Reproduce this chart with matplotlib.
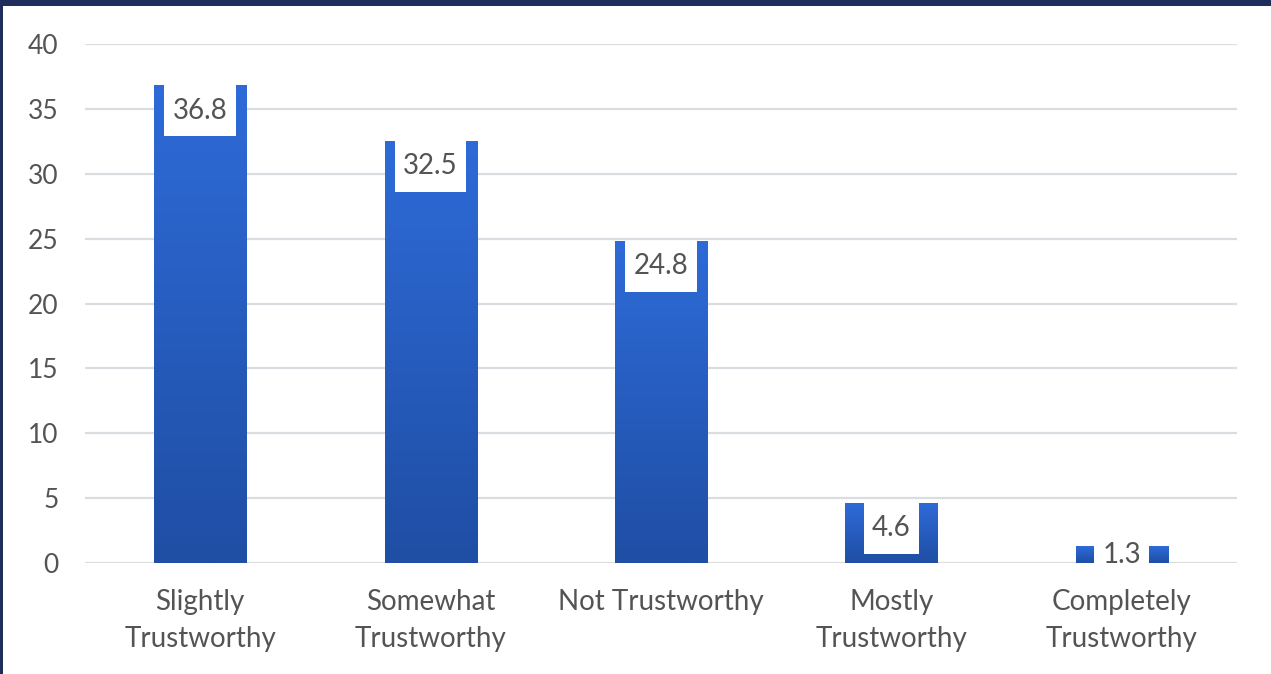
import matplotlib
matplotlib.use("Agg")
import matplotlib.pyplot as plt
import numpy as np
from matplotlib.colors import LinearSegmentedColormap
from matplotlib.patches import Rectangle
from matplotlib.path import Path

categories = ["Slightly\nTrustworthy", "Somewhat\nTrustworthy", "Not Trustworthy",
              "Mostly\nTrustworthy", "Completely\nTrustworthy"]
values = [36.8, 32.5, 24.8, 4.6, 1.3]
labels = ["36.8", "32.5", "24.8", "4.6", "1.3"]
yticks = [0, 5, 10, 15, 20, 25, 30, 35, 40]

W, H = 1271, 674
fig = plt.figure(figsize=(W / 100, H / 100), dpi=100)
fig.patch.set_facecolor("white")
navy = "#1f2d5c"
fig.patches.append(Rectangle((0, (H - 6) / H), 1, 6 / H, transform=fig.transFigure,
                             facecolor=navy, edgecolor="none", zorder=10))
fig.patches.append(Rectangle((0, 0), 3 / W, 1, transform=fig.transFigure,
                             facecolor=navy, edgecolor="none", zorder=10))

ax = fig.add_axes([85 / W, 111 / H, (1237 - 85) / W, (563 - 44) / H])
ax.set_facecolor("none")

x = np.arange(len(values))
bw = 0.4
bars = ax.bar(x, values, width=bw, color="none", zorder=3)

cmap = LinearSegmentedColormap.from_list("g", ["#1f4ea4", "#2e6bd8"])
grad = np.linspace(0, 1, 256).reshape(-1, 1)
for b in bars:
    x0 = b.get_x()
    ax.imshow(grad, extent=[x0, x0 + b.get_width(), 0, b.get_height()],
              origin="lower", aspect="auto", cmap=cmap, zorder=3)

ax.set_xlim(-0.5, len(values) - 0.5)
ax.set_ylim(0, 40)

ax.set_yticks(yticks)
ax.set_yticklabels([str(t) for t in yticks])
ax.yaxis.grid(True, color="#d9dce1", lw=1.6, zorder=0)
ax.set_axisbelow(True)
for s in ax.spines.values():
    s.set_visible(False)
ax.tick_params(axis="y", length=0, pad=19, labelsize=19, labelcolor="#545454")
ax.tick_params(axis="x", length=0, pad=19, labelsize=20, labelcolor="#545454")
ax.set_xticks(x)
ax.set_xticklabels(categories, linespacing=1.5)
for t in ax.get_xticklabels() + ax.get_yticklabels():
    t.set_fontfamily("Lato")


def label_box(x0, y0, width, height, mutation_size):
    px = 0.3 * mutation_size
    py = 0.45 * mutation_size
    l, r = x0 - px, x0 + width + px
    b, t = y0 - py, y0 + height + py
    return Path([(l, b), (r, b), (r, t), (l, t), (l, b)], closed=True)


# data labels
px_per_unit = (563 - 44) / 40.0
off = 25 / px_per_unit
for xi, v, lab in zip(x, values, labels):
    y = max(v - off, v / 2)
    ax.text(xi, y, lab, ha="center", va="center", fontsize=20, family="Lato",
            color="#545454", zorder=5,
            bbox=dict(boxstyle=label_box, fc="white", ec="none"))

fig.savefig("out.png", dpi=100, facecolor=fig.get_facecolor())
